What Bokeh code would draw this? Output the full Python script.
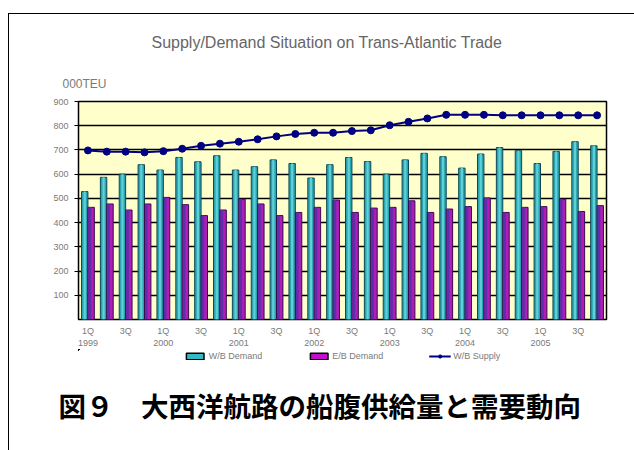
from bokeh.plotting import figure
from bokeh.layouts import column
from bokeh.models import (ColumnDataSource, FixedTicker, LinearAxis, Legend, LegendItem,
                          Title, Range1d)
from bokeh.transform import dodge
from bokeh.embed import file_html
from bokeh.resources import INLINE

# Quarterly series, 1Q 1999 .. 4Q 2005 (thousand TEU)
quarter = list(range(28))
wb_demand = [528, 587, 600, 639, 617, 669, 651, 676, 617, 631, 659, 644, 584, 639,
             669, 652, 600, 659, 686, 672, 625, 683, 710, 697, 644, 694, 734, 717]
eb_demand = [463, 477, 452, 477, 504, 474, 429, 452, 497, 477, 429, 442, 463, 493,
             442, 460, 463, 490, 442, 456, 466, 502, 442, 463, 466, 497, 446, 470]
wb_supply = [698, 693, 693, 690, 695, 705, 717, 726, 734, 744, 756, 766, 771, 771,
             778, 781, 802, 816, 830, 845, 845, 845, 843, 843, 843, 843, 843, 843]

half_year_ticks = [0, 2, 4, 6, 8, 10, 12, 14, 16, 18, 20, 22, 24, 26]
half_year_labels = ["1Q", "3Q", "1Q", "3Q", "1Q", "3Q", "1Q", "3Q",
                    "1Q", "3Q", "1Q", "3Q", "1Q", "3Q"]
year_ticks = [0, 4, 8, 12, 16, 20, 24]
year_labels = ["1999", "2000", "2001", "2002", "2003", "2004", "2005"]
y_ticks = [100, 200, 300, 400, 500, 600, 700, 800, 900]
series_names = ["W/B Demand", "E/B Demand", "W/B Supply"]

title_text = "Supply/Demand Situation on Trans-Atlantic Trade"
unit_text = "000TEU"
caption_text = "図９　大西洋航路の船腹供給量と需要動向"

src = ColumnDataSource(dict(q=quarter, wb=wb_demand, eb=eb_demand, sup=wb_supply))

FONT = "Liberation Sans"
GREY = "#7a7a7a"
CYAN, CYAN_EDGE, CYAN_HI = "#2AA3B0", "#0E4A55", "#5FD0D8"
PURPLE, PURPLE_EDGE, PURPLE_LO = "#B01CB8", "#3A0A50", "#5B2FA8"
NAVY = "#000080"

# ---- main chart -------------------------------------------------------------
p = figure(frame_width=528, frame_height=218, output_backend="svg",
           toolbar_location=None,
           x_range=Range1d(-0.5, 27.5), y_range=Range1d(0, 900),
           min_border_left=69, min_border_right=29, min_border_top=87,
           min_border_bottom=30, background_fill_color="#FFFFCC",
           border_fill_color="white", outline_line_color="black",
           outline_line_width=1.5)

bw = 0.34
p.vbar(x=dodge("q", -0.17), top="wb", width=bw, source=src,
       fill_color=CYAN, line_color=CYAN_EDGE, line_width=1)
p.vbar(x=dodge("q", -0.17), top="wb", width=0.12, source=src,
       fill_color=CYAN_HI, line_color=None)
p.vbar(x=dodge("q", 0.17), top="eb", width=bw, source=src,
       fill_color=PURPLE, line_color=PURPLE_EDGE, line_width=1)
p.vbar(x=dodge("q", 0.10), top="eb", width=0.14, source=src,
       fill_color=PURPLE_LO, line_color=None)
p.line("q", "sup", source=src, line_color=NAVY, line_width=2)
p.scatter("q", "sup", source=src, size=7, fill_color=NAVY, line_color=NAVY)

p.yaxis.ticker = FixedTicker(ticks=y_ticks)
p.yaxis.axis_line_color = None
p.yaxis.major_tick_out = 4
p.yaxis.major_tick_in = 0
p.yaxis.major_tick_line_color = "black"
p.yaxis.minor_tick_line_color = None
p.yaxis.major_label_text_font = FONT
p.yaxis.major_label_text_font_size = "9px"
p.yaxis.major_label_text_color = GREY
p.yaxis.major_label_standoff = 6

p.xaxis.ticker = FixedTicker(ticks=half_year_ticks)
p.xaxis.major_label_overrides = dict(zip(half_year_ticks, half_year_labels))
p.xaxis.axis_line_color = None
p.xaxis.major_tick_line_color = None
p.xaxis.major_tick_out = 0
p.xaxis.major_tick_in = 0
p.xaxis.minor_tick_line_color = None
p.xaxis.minor_tick_out = 0
p.xaxis.major_label_text_font = FONT
p.xaxis.major_label_text_font_size = "9px"
p.xaxis.major_label_text_color = GREY
p.xaxis.major_label_standoff = 6

year_axis = LinearAxis(ticker=FixedTicker(ticks=year_ticks),
                       major_label_overrides=dict(zip(year_ticks, year_labels)),
                       axis_line_color=None, major_tick_line_color=None,
                       major_tick_out=0, major_tick_in=0, minor_tick_out=0,
                       minor_tick_line_color=None, major_label_text_font=FONT,
                       major_label_text_font_size="9px",
                       major_label_text_color=GREY, major_label_standoff=1)
p.add_layout(year_axis, "below")

p.xgrid.grid_line_color = None
p.ygrid.ticker = FixedTicker(ticks=y_ticks)
p.ygrid.grid_line_color = "black"
p.ygrid.grid_line_width = 1.5

p.title = Title(text=title_text, align="left", offset=73, standoff=25,
                text_font=FONT, text_font_size="16px", text_font_style="normal",
                text_color="#666666")
p.add_layout(Title(text=unit_text, align="left", offset=-16, standoff=22,
                   text_font=FONT, text_font_size="12px", text_font_style="normal",
                   text_color=GREY), "above")

# ---- legend strip and caption -------------------------------------------------
# Same horizontal geometry as the chart above; the strip's ranges lie outside
# the series values, so the series here only carry the legend swatches.
foot = figure(frame_width=528, frame_height=22, output_backend="svg",
              toolbar_location=None, x_range=Range1d(100, 628),
              y_range=Range1d(-110, -88),
              min_border_left=69, min_border_right=29, min_border_top=0,
              min_border_bottom=80, outline_line_color=None,
              background_fill_color="white", border_fill_color="white")
foot.axis.visible = False
foot.grid.visible = False

sw_wb = foot.vbar(x="q", top="wb", width=bw, source=src, fill_color="#33B8C4",
                  line_color="black", line_width=1.5)
sw_eb = foot.vbar(x="q", top="eb", width=bw, source=src, fill_color="#C010C8",
                  line_color="black", line_width=1.5)
sw_line = foot.line("q", "sup", source=src, line_color=NAVY, line_width=2)
sw_dot = foot.scatter("q", "sup", source=src, size=7, fill_color=NAVY, line_color=NAVY)

legend = Legend(items=[LegendItem(label=series_names[0], renderers=[sw_wb]),
                       LegendItem(label=series_names[1], renderers=[sw_eb]),
                       LegendItem(label=series_names[2], renderers=[sw_line, sw_dot])],
                orientation="horizontal", location="top_center",
                label_text_font=FONT, label_text_font_size="9px",
                label_text_color=GREY, glyph_width=22, glyph_height=8,
                label_standoff=3, spacing=45, padding=2, margin=2,
                border_line_color=None, background_fill_alpha=0)
foot.add_layout(legend, "center")

foot.add_layout(Title(text=caption_text, align="left", offset=-20, standoff=22,
                      text_font="Noto Sans CJK JP", text_font_size="27.5px",
                      text_font_style="bold", text_color="black"), "below")

page = column(p, foot, spacing=0)
page.margin = (13, 0, 0, 8)
page.styles = {"border-top": "1.5px solid black", "border-left": "1.5px solid black"}

open("out.html", "w").write(file_html(page, INLINE))
